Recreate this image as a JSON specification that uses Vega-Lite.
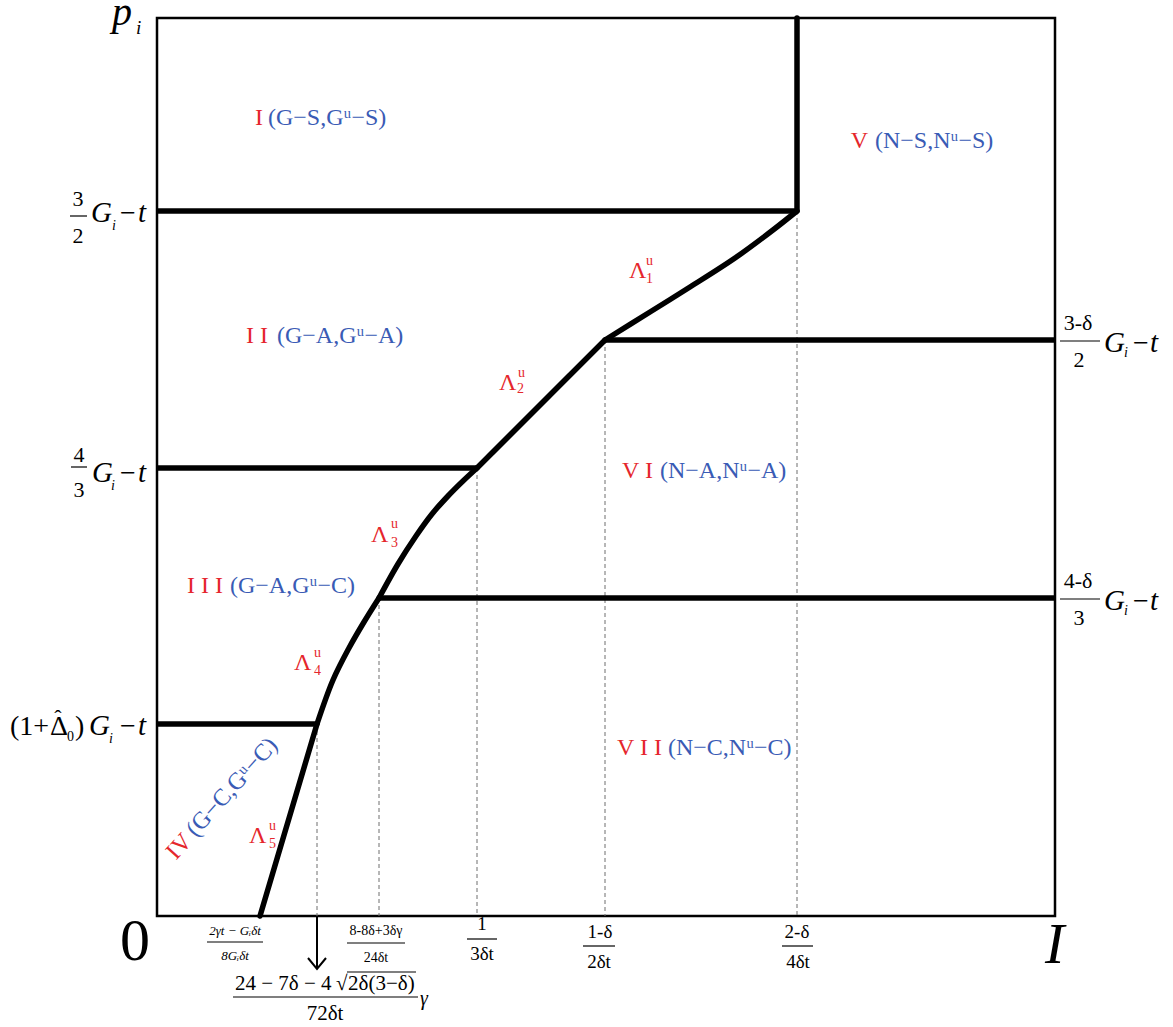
{
  "$schema": "https://vega.github.io/schema/vega-lite/v6.json",
  "width": 898,
  "height": 898,
  "autosize": {"type": "none"},
  "padding": {"left": 157, "top": 18, "right": 118, "bottom": 111},
  "background": "white",
  "config": {"view": {"stroke": "black", "strokeWidth": 2.5}},
  "datasets": {
    "path": [
      {"x": 640, "y": 898, "o": 1, "s": "v"}, {"x": 640, "y": 705, "o": 2, "s": "v"},
      {"x": 640, "y": 705, "o": 3, "s": "l1"}, {"x": 616, "y": 686, "o": 4, "s": "l1"},
      {"x": 578, "y": 658, "o": 5, "s": "l1"}, {"x": 533, "y": 629, "o": 6, "s": "l1"},
      {"x": 493, "y": 604, "o": 7, "s": "l1"}, {"x": 448, "y": 576, "o": 8, "s": "l1"},
      {"x": 448, "y": 576, "o": 9, "s": "l2"}, {"x": 320, "y": 448, "o": 10, "s": "l2"},
      {"x": 320, "y": 448, "o": 11, "s": "l3"}, {"x": 306, "y": 435, "o": 12, "s": "l3"},
      {"x": 291, "y": 420, "o": 13, "s": "l3"}, {"x": 275, "y": 402, "o": 14, "s": "l3"},
      {"x": 259, "y": 380, "o": 15, "s": "l3"}, {"x": 241, "y": 352, "o": 16, "s": "l3"},
      {"x": 222, "y": 318, "o": 17, "s": "l3"},
      {"x": 222, "y": 318, "o": 18, "s": "l4"}, {"x": 207, "y": 294, "o": 19, "s": "l4"},
      {"x": 192, "y": 268, "o": 20, "s": "l4"}, {"x": 176, "y": 236, "o": 21, "s": "l4"},
      {"x": 160, "y": 192, "o": 22, "s": "l4"},
      {"x": 160, "y": 192, "o": 23, "s": "l5"}, {"x": 103, "y": 0, "o": 24, "s": "l5"}
    ],
    "hrules": [
      {"x": 0, "x2": 640, "y": 705}, {"x": 448, "x2": 898, "y": 576}, {"x": 0, "x2": 320, "y": 448},
      {"x": 222, "x2": 898, "y": 318}, {"x": 0, "x2": 160, "y": 192}
    ],
    "dashes": [
      {"x": 160, "y": 192}, {"x": 222, "y": 318}, {"x": 320, "y": 448}, {"x": 448, "y": 576}, {"x": 640, "y": 705}
    ],
    "arrowstem": [{"x": 160, "y": 0, "y2": -53}],
    "arrowhead": [{"x": 151, "y": -42, "o": 1}, {"x": 160, "y": -53, "o": 2}, {"x": 169, "y": -42, "o": 3}],
    "bars": [
      {"x": -87, "x2": -70, "y": 700}, {"x": -86, "x2": -70, "y": 449},
      {"x": 903, "x2": 943, "y": 575}, {"x": 903, "x2": 943, "y": 317},
      {"x": 50, "x2": 106, "y": -26}, {"x": 190, "x2": 248, "y": -27},
      {"x": 310, "x2": 340, "y": -23}, {"x": 426, "x2": 458, "y": -30},
      {"x": 625, "x2": 656, "y": -30}, {"x": 76, "x2": 261, "y": -81},
      {"x": 190, "x2": 259, "y": -56}
    ],
    "gt": [
      {"x": -66, "y": 694, "t": "G"}, {"x": -19, "y": 694, "t": "t"},
      {"x": -65, "y": 434, "t": "G"}, {"x": -19, "y": 434, "t": "t"},
      {"x": -68, "y": 181, "t": "G"}, {"x": -19, "y": 181, "t": "t"},
      {"x": 947, "y": 564, "t": "G"}, {"x": 993, "y": 564, "t": "t"},
      {"x": 947, "y": 306, "t": "G"}, {"x": 993, "y": 306, "t": "t"}
    ],
    "reg28": [
      {"x": -37, "y": 694, "t": "−"}, {"x": -37, "y": 434, "t": "−"}, {"x": -37, "y": 181, "t": "−"},
      {"x": 976, "y": 564, "t": "−"}, {"x": 976, "y": 306, "t": "−"},
      {"x": -147, "y": 181, "t": "(1+"}, {"x": -107, "y": 181, "t": "Δ"}, {"x": -82, "y": 181, "t": ")"}
    ],
    "subi": [
      {"x": -45, "y": 686, "t": "i"}, {"x": -46, "y": 426, "t": "i"}, {"x": -48, "y": 173, "t": "i"},
      {"x": 967, "y": 559, "t": "i"}, {"x": 967, "y": 301, "t": "i"}
    ],
    "sub0": [{"x": -90, "y": 175, "t": "0"}],
    "frac22": [
      {"x": -79, "y": 710, "t": "3"}, {"x": -79, "y": 673, "t": "2"},
      {"x": -78, "y": 454, "t": "4"}, {"x": -78, "y": 419, "t": "3"},
      {"x": 921, "y": 586, "t": "3-δ"}, {"x": 922, "y": 549, "t": "2"},
      {"x": 921, "y": 328, "t": "4-δ"}, {"x": 922, "y": 291, "t": "3"},
      {"x": -99, "y": 191, "t": "ˆ"}
    ],
    "smallital": [{"x": 78, "y": -19, "t": "2γt − Gᵢδt"}, {"x": 78, "y": -44, "t": "8Gᵢδt"}],
    "smallreg": [{"x": 219, "y": -19, "t": "8-8δ+3δγ"}, {"x": 219, "y": -46, "t": "24δt"}],
    "mid": [
      {"x": 325, "y": -14, "t": "1"}, {"x": 325, "y": -44, "t": "3δt"},
      {"x": 443, "y": -22, "t": "1-δ"}, {"x": 442, "y": -52, "t": "2δt"},
      {"x": 640, "y": -22, "t": "2-δ"}, {"x": 641, "y": -52, "t": "4δt"}
    ],
    "bigleft": [
      {"x": 78, "y": -74, "t": "24 − 7δ − 4"}, {"x": 179, "y": -74, "t": "√"}, {"x": 191, "y": -74, "t": "2δ(3−δ)"}
    ],
    "bigcenter": [{"x": 168, "y": -104, "t": "72δt"}],
    "gamma": [{"x": 263, "y": -89, "t": "γ"}],
    "axisI": [{"x": 888, "y": -47, "t": "I"}],
    "axis0": [{"x": -22, "y": -44, "t": "0"}],
    "axisp": [{"x": -45, "y": 891, "t": "p"}],
    "axispi": [{"x": -21, "y": 882, "t": "i"}],
    "regred": [
      {"x": 106, "y": 791, "t": "I"}, {"x": 111, "y": 573, "t": "I I"}, {"x": 66, "y": 323, "t": "I I I"},
      {"x": 711, "y": 768, "t": "V"}, {"x": 496, "y": 438, "t": "V I"}, {"x": 505, "y": 161, "t": "V I I"}
    ],
    "regblue": [
      {"x": 111, "y": 791, "t": "(G−S,Gᵘ−S)"}, {"x": 120, "y": 573, "t": "(G−A,Gᵘ−A)"},
      {"x": 73, "y": 323, "t": "(G−A,Gᵘ−C)"}, {"x": 718, "y": 768, "t": "(N−S,Nᵘ−S)"},
      {"x": 503, "y": 438, "t": "(N−A,Nᵘ−A)"}, {"x": 511, "y": 161, "t": "(N−C,Nᵘ−C)"}
    ],
    "ivred": [{"x": 36, "y": 74, "t": "IV"}],
    "ivblue": [{"x": 39, "y": 78, "t": "(G−C,Gᵘ−C)"}],
    "lam": [
      {"x": 472, "y": 638, "t": "Λ"}, {"x": 342, "y": 526, "t": "Λ"}, {"x": 214, "y": 374, "t": "Λ"},
      {"x": 137, "y": 246, "t": "Λ"}, {"x": 92, "y": 73, "t": "Λ"}
    ],
    "lamsmall": [
      {"x": 489, "y": 633, "t": "1"}, {"x": 360, "y": 523, "t": "2"}, {"x": 234, "y": 369, "t": "3"},
      {"x": 157, "y": 241, "t": "4"}, {"x": 112, "y": 68, "t": "5"},
      {"x": 489, "y": 651, "t": "u"}, {"x": 361, "y": 539, "t": "u"}, {"x": 234, "y": 388, "t": "u"},
      {"x": 157, "y": 259, "t": "u"}, {"x": 112, "y": 86, "t": "u"}
    ]
  },
  "encoding": {
    "x": {"field": "x", "type": "quantitative", "scale": {"domain": [0, 898], "nice": false, "zero": false}, "axis": null},
    "y": {"field": "y", "type": "quantitative", "scale": {"domain": [0, 898], "nice": false, "zero": false}, "axis": null}
  },
  "layer": [
    {"data": {"name": "dashes"}, "mark": {"type": "rule", "stroke": "#6e6e6e", "strokeWidth": 1, "strokeDash": [4, 3]},
     "encoding": {"y2": {"datum": 0}}},
    {"data": {"name": "hrules"}, "mark": {"type": "rule", "stroke": "black", "strokeWidth": 5.5},
     "encoding": {"x2": {"field": "x2"}}},
    {"data": {"name": "path"}, "mark": {"type": "line", "stroke": "black", "strokeWidth": 5.5, "strokeJoin": "round", "strokeCap": "round", "interpolate": "catmull-rom"},
     "encoding": {"order": {"field": "o", "type": "quantitative"}, "detail": {"field": "s", "type": "nominal"}}},
    {"data": {"name": "arrowstem"}, "mark": {"type": "rule", "stroke": "black", "strokeWidth": 2},
     "encoding": {"y2": {"field": "y2"}}},
    {"data": {"name": "arrowhead"}, "mark": {"type": "line", "stroke": "black", "strokeWidth": 2},
     "encoding": {"order": {"field": "o", "type": "quantitative"}}},
    {"data": {"name": "bars"}, "mark": {"type": "rule", "stroke": "black", "strokeWidth": 1.2},
     "encoding": {"x2": {"field": "x2"}}},
    {"data": {"name": "gt"}, "mark": {"type": "text", "font": "Liberation Serif", "fontStyle": "italic", "fontSize": 29, "align": "left", "baseline": "alphabetic", "color": "black"},
     "encoding": {"text": {"field": "t"}}},
    {"data": {"name": "reg28"}, "mark": {"type": "text", "font": "Liberation Serif", "fontSize": 28, "align": "left", "baseline": "alphabetic", "color": "black"},
     "encoding": {"text": {"field": "t"}}},
    {"data": {"name": "subi"}, "mark": {"type": "text", "font": "Liberation Serif", "fontStyle": "italic", "fontSize": 14, "align": "left", "baseline": "alphabetic", "color": "black"},
     "encoding": {"text": {"field": "t"}}},
    {"data": {"name": "sub0"}, "mark": {"type": "text", "font": "Liberation Serif", "fontSize": 14, "align": "left", "baseline": "alphabetic", "color": "black"},
     "encoding": {"text": {"field": "t"}}},
    {"data": {"name": "frac22"}, "mark": {"type": "text", "font": "Liberation Serif", "fontSize": 22, "align": "center", "baseline": "alphabetic", "color": "black"},
     "encoding": {"text": {"field": "t"}}},
    {"data": {"name": "smallital"}, "mark": {"type": "text", "font": "Liberation Serif, DejaVu Serif", "fontStyle": "italic", "fontSize": 13, "align": "center", "baseline": "alphabetic", "color": "black"},
     "encoding": {"text": {"field": "t"}}},
    {"data": {"name": "smallreg"}, "mark": {"type": "text", "font": "Liberation Serif", "fontSize": 14, "align": "center", "baseline": "alphabetic", "color": "black"},
     "encoding": {"text": {"field": "t"}}},
    {"data": {"name": "mid"}, "mark": {"type": "text", "font": "Liberation Serif", "fontSize": 19, "align": "center", "baseline": "alphabetic", "color": "black"},
     "encoding": {"text": {"field": "t"}}},
    {"data": {"name": "bigleft"}, "mark": {"type": "text", "font": "Liberation Serif", "fontSize": 21, "align": "left", "baseline": "alphabetic", "color": "black"},
     "encoding": {"text": {"field": "t"}}},
    {"data": {"name": "bigcenter"}, "mark": {"type": "text", "font": "Liberation Serif", "fontSize": 21, "align": "center", "baseline": "alphabetic", "color": "black"},
     "encoding": {"text": {"field": "t"}}},
    {"data": {"name": "gamma"}, "mark": {"type": "text", "font": "Liberation Serif", "fontStyle": "italic", "fontSize": 20, "align": "left", "baseline": "alphabetic", "color": "black"},
     "encoding": {"text": {"field": "t"}}},
    {"data": {"name": "axisI"}, "mark": {"type": "text", "font": "Liberation Serif", "fontStyle": "italic", "fontSize": 58, "align": "left", "baseline": "alphabetic", "color": "black"},
     "encoding": {"text": {"field": "t"}}},
    {"data": {"name": "axis0"}, "mark": {"type": "text", "font": "Liberation Serif", "fontSize": 60, "align": "center", "baseline": "alphabetic", "color": "black"},
     "encoding": {"text": {"field": "t"}}},
    {"data": {"name": "axisp"}, "mark": {"type": "text", "font": "Liberation Serif", "fontStyle": "italic", "fontSize": 40, "align": "left", "baseline": "alphabetic", "color": "black"},
     "encoding": {"text": {"field": "t"}}},
    {"data": {"name": "axispi"}, "mark": {"type": "text", "font": "Liberation Serif", "fontStyle": "italic", "fontSize": 19, "align": "left", "baseline": "alphabetic", "color": "black"},
     "encoding": {"text": {"field": "t"}}},
    {"data": {"name": "regred"}, "mark": {"type": "text", "font": "Liberation Serif", "fontSize": 24, "align": "right", "baseline": "alphabetic", "color": "#e5262c"},
     "encoding": {"text": {"field": "t"}}},
    {"data": {"name": "regblue"}, "mark": {"type": "text", "font": "Liberation Serif, DejaVu Serif", "fontSize": 24, "align": "left", "baseline": "alphabetic", "color": "#3a5bb5"},
     "encoding": {"text": {"field": "t"}}},
    {"data": {"name": "ivred"}, "mark": {"type": "text", "font": "Liberation Serif", "fontSize": 24, "align": "right", "baseline": "alphabetic", "angle": -48, "color": "#e5262c"},
     "encoding": {"text": {"field": "t"}}},
    {"data": {"name": "ivblue"}, "mark": {"type": "text", "font": "Liberation Serif, DejaVu Serif", "fontSize": 24, "align": "left", "baseline": "alphabetic", "angle": -48, "color": "#3a5bb5"},
     "encoding": {"text": {"field": "t"}}},
    {"data": {"name": "lam"}, "mark": {"type": "text", "font": "Liberation Serif", "fontSize": 24, "align": "left", "baseline": "alphabetic", "color": "#e5262c"},
     "encoding": {"text": {"field": "t"}}},
    {"data": {"name": "lamsmall"}, "mark": {"type": "text", "font": "Liberation Serif", "fontSize": 14, "align": "left", "baseline": "alphabetic", "color": "#e5262c"},
     "encoding": {"text": {"field": "t"}}}
  ]
}
